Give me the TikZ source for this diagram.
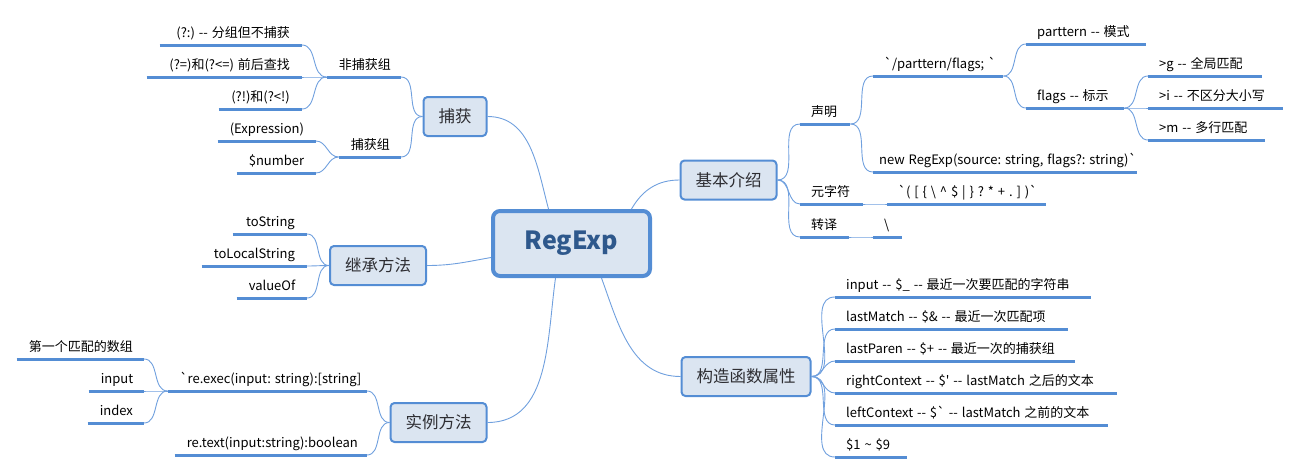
\documentclass[tikz,border=0pt]{standalone}
\usepackage{fontspec}
\setmainfont{Noto Sans CJK SC}[Ligatures=TeXOff]
\usepackage{xcolor}
\definecolor{mmblue}{RGB}{84,141,212}
\definecolor{mmthin}{RGB}{112,160,222}
\definecolor{mmfill}{RGB}{219,229,241}
\definecolor{mmroot}{RGB}{46,88,140}
\definecolor{mmtext}{RGB}{45,45,50}

\begin{document}
\begin{tikzpicture}[x=1pt,y=-1pt,
  root/.style={draw=mmblue, line width=4pt, rounded corners=7pt, fill=mmfill, text=mmroot,
    font=\fontsize{25}{30}\selectfont\bfseries, minimum width=157pt, minimum height=65pt},
  topic/.style={draw=mmblue, line width=2pt, rounded corners=4pt, fill=mmfill, text=mmtext,
    font=\fontsize{16.5}{20}\selectfont, inner xsep=15pt, minimum height=39pt},
  leaf/.style={font=\fontsize{13}{15}\selectfont\frenchspacing, text=black, text height=10pt, text depth=3pt,
    inner ysep=4pt, execute at begin node=\spaceskip.3em\xspaceskip.3em\leavevmode\hbox\bgroup,
    execute at end node=\egroup},
  lleaf/.style={leaf, anchor=south east, inner xsep=12pt, align=right},
  rleaf/.style={leaf, anchor=south west, inner xsep=11pt, align=left},
  uline/.style={draw=mmblue, line width=3pt},
  branch/.style={draw=mmthin, line width=0.9pt},
  lbr/.style={out=180,in=0},
  rbr/.style={out=0,in=180}]
\useasboundingbox (0,0) rectangle (1300,474);

\node[root] (root) at (571.5,243.5) {RegExp};
\node[topic] (cap) at (455,116.5) {捕获};
\node[topic] (inh) at (378,265.5) {继承方法};
\node[topic] (inst) at (438.5,422.5) {实例方法};
\node[topic] (basic) at (728.5,180) {基本介绍};
\node[topic] (ctor) at (746,376.5) {构造函数属性};

% left side
\node[lleaf, text width=50pt] (ncg) at (401,77) {非捕获组};
\node[lleaf, text width=38pt] (cg) at (401,157) {捕获组};
\node[lleaf, text width=118pt] (nc1) at (302,45) {(?:) -- 分组但不捕获};
\node[lleaf, text width=131pt] (nc2) at (302,77) {(?=)和(?<=) 前后查找};
\node[lleaf, text width=59pt] (nc3) at (302,109) {(?!)和(?<!)};
\node[lleaf, text width=74pt] (cg1) at (316,141) {(Expression)};
\node[lleaf, text width=55pt] (cg2) at (316,173) {\$number};
\node[lleaf, text width=50pt] (inh1) at (307,234) {toString};
\node[lleaf, text width=81pt] (inh2) at (307,266) {toLocalString};
\node[lleaf, text width=46pt] (inh3) at (307,298) {valueOf};
\node[lleaf, text width=175pt] (ex) at (367,391) {`re.exec(input: string):[string]};
\node[lleaf, text width=168pt] (test) at (367,455) {re.text(input:string):boolean};
\node[lleaf, text width=103pt] (ex1) at (144,359) {第一个匹配的数组};
\node[lleaf, text width=31pt] (ex2) at (144,391) {input};
\node[lleaf, text width=32pt] (ex3) at (144,423) {index};

% right side
\node[rleaf, text width=28pt] (decl) at (800,124) {声明};
\node[rleaf, text width=41pt] (meta) at (800,204) {元字符};
\node[rleaf, text width=27pt] (esc) at (800,237) {转译};
\node[rleaf, text width=108pt] (lit) at (873,76) {`/parttern/flags; `};
\node[rleaf, text width=252pt, inner xsep=6pt] (newre) at (873,172) {new RegExp(source: string, flags?: string)`};
\node[rleaf, text width=137pt] (mchars) at (887,204)
  {`( [ \{ \textbackslash{} \textasciicircum{} \$ | \} ? * + . ] )`};
\node[rleaf, text width=7pt] (bsl) at (873,237) {\textbackslash};
\node[rleaf, text width=98pt] (pat) at (1026,44) {parttern -- 模式};
\node[rleaf, text width=76pt] (flg) at (1026,108) {flags -- 标示};
\node[rleaf, text width=92pt] (fg) at (1148,76) {>g -- 全局匹配};
\node[rleaf, text width=113pt] (fi) at (1148,108) {>i -- 不区分大小写};
\node[rleaf, text width=95pt] (fm) at (1148,140) {>m -- 多行匹配};
\node[rleaf, text width=234pt] (p1) at (835,297) { input -- \$\_ -- 最近一次要匹配的字符串};
\node[rleaf, text width=211pt] (p2) at (835,329) {lastMatch -- \$\& -- 最近一次匹配项};
\node[rleaf, text width=218pt] (p3) at (835,361) {lastParen -- \$+ -- 最近一次的捕获组};
\node[rleaf, text width=260pt] (p4) at (835,393) {rightContext -- \$' -- lastMatch 之后的文本};
\node[rleaf, text width=251pt] (p5) at (835,425) {leftContext -- \$` -- lastMatch 之前的文本};
\node[rleaf, text width=50pt] (p6) at (835,457) {\$1 \textasciitilde{} \$9};

% root to topics
\draw[branch] (cap.east) to[out=0,in=105] ([xshift=-23pt]root.north);
\draw[branch] (basic.west) to[out=180,in=60] ([xshift=60pt]root.north);
\draw[branch] (inh.east) to[out=0,in=190] ([yshift=-14pt]root.west);
\draw[branch] (inst.east) to[out=0,in=-98] ([xshift=-16pt]root.south);
\draw[branch] (ctor.west) to[out=180,in=-70] ([xshift=30pt]root.south);

% topics to leaves
\foreach \a/\b in {cap.west/ncg,cap.west/cg,ncg.south west/nc1,ncg.south west/nc2,ncg.south west/nc3,
  cg.south west/cg1,cg.south west/cg2,inh.west/inh1,inh.west/inh2,inh.west/inh3,
  inst.west/ex,inst.west/test,ex.south west/ex1,ex.south west/ex2,ex.south west/ex3}
  \draw[branch] (\a) to[lbr] (\b.south east);
\foreach \a/\b in {basic.east/decl,basic.east/meta,basic.east/esc,decl.south east/lit,decl.south east/newre,
  meta.south east/mchars,esc.south east/bsl,lit.south east/pat,lit.south east/flg,
  flg.south east/fg,flg.south east/fi,flg.south east/fm,
  ctor.east/p1,ctor.east/p2,ctor.east/p3,ctor.east/p4,ctor.east/p5,ctor.east/p6}
  \draw[branch] (\a) to[rbr] (\b.south west);

\foreach \n in {ncg,cg,nc1,nc2,nc3,cg1,cg2,inh1,inh2,inh3,ex,test,ex1,ex2,ex3,
  decl,meta,esc,lit,newre,mchars,bsl,pat,flg,fg,fi,fm,p1,p2,p3,p4,p5,p6}
  \draw[uline] (\n.south west) -- (\n.south east);
\end{tikzpicture}
\end{document}
